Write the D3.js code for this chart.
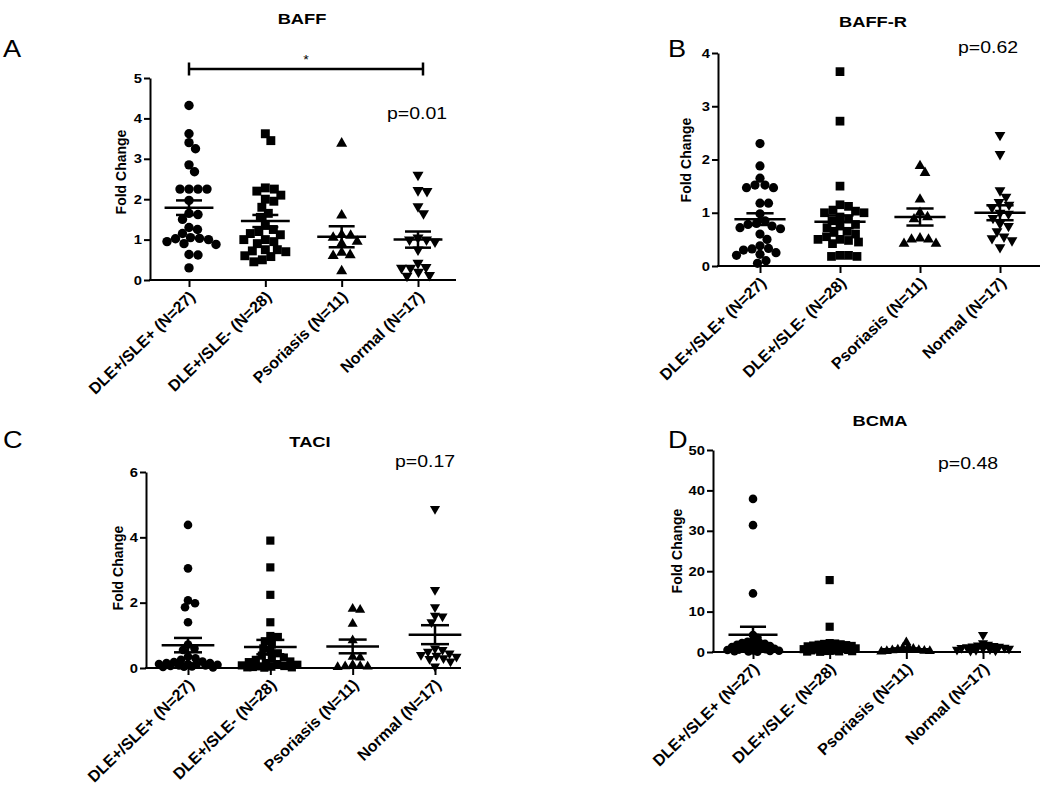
<!DOCTYPE html>
<html><head><meta charset="utf-8">
<script src="https://cdn.jsdelivr.net/npm/d3@7"></script>
<style>
body{margin:0;background:#fff}
svg{display:block}
text{font-family:"Liberation Sans",Arial,Helvetica,sans-serif;fill:#000}
</style>
</head><body>
<svg id="chart" width="1050" height="790"></svg>
<script>
// ---------------- data ----------------
const categories = ["DLE+/SLE+ (N=27)", "DLE+/SLE- (N=28)", "Psoriasis (N=11)", "Normal (N=17)"];
const panelLetters = ["A", "B", "C", "D"];
const panelTitles = ["BAFF", "BAFF-R", "TACI", "BCMA"];
const pValues = ["p=0.01", "p=0.62", "p=0.17", "p=0.48"];

const baffTicks = [0, 1, 2, 3, 4, 5];
const baffrTicks = [0, 1, 2, 3, 4];
const taciTicks = [0, 2, 4, 6];
const bcmaTicks = [0, 10, 20, 30, 40, 50];

const baffValues = [
  [4.32, 3.62, 3.40, 3.25, 2.85, 2.68, 2.25, 2.25, 2.25, 2.25, 1.97, 1.65, 1.62, 1.50, 1.30, 1.25, 1.15, 1.05, 1.03, 1.02, 1.00, 0.95, 0.90, 0.88, 0.63, 0.62, 0.30],
  [3.62, 3.45, 2.28, 2.25, 2.20, 2.10, 2.00, 1.95, 1.80, 1.65, 1.55, 1.35, 1.25, 1.20, 1.15, 1.12, 1.00, 1.00, 0.95, 0.90, 0.75, 0.75, 0.72, 0.70, 0.60, 0.58, 0.50, 0.45],
  [3.38, 1.60, 1.12, 1.10, 1.05, 0.95, 0.90, 0.68, 0.62, 0.60, 0.22],
  [2.60, 2.22, 2.20, 1.82, 1.65, 1.05, 1.00, 1.00, 0.95, 0.75, 0.42, 0.32, 0.30, 0.30, 0.20, 0.12, 0.10]
];
const baffMeans = [1.79, 1.46, 1.07, 1.00];
const baffSems = [0.18, 0.15, 0.26, 0.20];

const baffrValues = [
  [2.30, 1.88, 1.65, 1.52, 1.52, 1.47, 1.47, 1.18, 1.18, 0.98, 0.85, 0.80, 0.78, 0.75, 0.72, 0.70, 0.60, 0.50, 0.38, 0.33, 0.32, 0.30, 0.25, 0.22, 0.20, 0.10, 0.05],
  [3.65, 2.72, 1.50, 1.15, 1.12, 1.05, 1.03, 1.00, 1.00, 0.92, 0.88, 0.85, 0.78, 0.75, 0.72, 0.65, 0.63, 0.60, 0.55, 0.50, 0.50, 0.48, 0.45, 0.42, 0.20, 0.18, 0.18, 0.20],
  [1.88, 1.75, 1.25, 1.00, 0.92, 0.88, 0.52, 0.50, 0.50, 0.42, 0.42],
  [2.46, 2.10, 1.42, 1.30, 1.20, 1.15, 1.10, 1.00, 0.98, 0.90, 0.80, 0.75, 0.65, 0.55, 0.52, 0.48, 0.35]
];
const baffrMeans = [0.88, 0.83, 0.92, 1.00];
const baffrSems = [0.11, 0.12, 0.16, 0.14];

const taciValues = [
  [4.38, 3.05, 2.07, 1.98, 1.86, 1.40, 0.72, 0.60, 0.55, 0.35, 0.30, 0.25, 0.20, 0.18, 0.15, 0.15, 0.12, 0.12, 0.10, 0.10, 0.08, 0.08, 0.06, 0.05, 0.04, 0.03, 0.02],
  [3.90, 3.08, 2.24, 1.40, 0.98, 0.95, 0.82, 0.72, 0.60, 0.50, 0.45, 0.38, 0.32, 0.28, 0.25, 0.20, 0.18, 0.15, 0.12, 0.10, 0.08, 0.06, 0.05, 0.04, 0.03, 0.02, 0.02, 0.01],
  [1.81, 1.78, 1.35, 0.85, 0.34, 0.32, 0.10, 0.06, 0.05, 0.04, 0.03],
  [4.87, 2.39, 1.86, 1.60, 1.58, 1.40, 0.50, 0.45, 0.60, 0.55, 0.40, 0.38, 0.35, 0.30, 0.28, 0.20, 0.05]
];
const taciMeans = [0.70, 0.64, 0.66, 1.02];
const taciSems = [0.22, 0.22, 0.21, 0.29];

const bcmaValues = [
  [37.9, 31.4, 14.5, 4.2, 3.5, 2.8, 2.5, 2.3, 2.2, 2.0, 1.8, 1.6, 1.5, 1.3, 1.2, 1.0, 0.9, 0.8, 0.7, 0.6, 0.5, 0.4, 0.3, 0.25, 0.2, 0.15, 0.1],
  [17.8, 6.25, 2.2, 2.1, 2.0, 1.9, 1.8, 1.7, 1.6, 1.5, 1.4, 1.3, 1.2, 1.1, 1.0, 0.9, 0.8, 0.7, 0.6, 0.5, 0.4, 0.35, 0.3, 0.25, 0.2, 0.15, 0.1, 0.05],
  [2.4, 1.2, 1.0, 0.8, 0.6, 0.5, 0.4, 0.3, 0.25, 0.2, 0.1],
  [4.2, 2.2, 1.8, 1.6, 1.5, 1.4, 1.3, 1.2, 1.1, 1.0, 0.9, 0.8, 0.7, 0.6, 0.5, 0.4, 0.3]
];
const bcmaMeans = [4.3, 1.8, 0.7, 1.3];
const bcmaSems = [1.95, 0.65, 0.2, 0.3];

// ---------------- layout ----------------
const panels = [
  {values: baffValues, means: baffMeans, sems: baffSems, ticks: baffTicks,
   ax0: 150, ax1: 456, y0: 280, yTop: 78, c0: 189, c1: 418, r: 4.7, maxHalf: 30, coll: 0.92,
   letter: [3, 57], title: [302, 24], p: [387, 119], ylab: [121, 172]},
  {values: baffrValues, means: baffrMeans, sems: baffrSems, ticks: baffrTicks,
   ax0: 718, ax1: 1040, y0: 266, yTop: 53, c0: 760, c1: 1000, r: 4.6, maxHalf: 30, coll: 0.92,
   letter: [668, 57], title: [873, 27], p: [958, 53], ylab: [686, 160]},
  {values: taciValues, means: taciMeans, sems: taciSems, ticks: taciTicks,
   ax0: 146, ax1: 461, y0: 668, yTop: 472, c0: 188, c1: 435, r: 4.3, maxHalf: 30, coll: 0.85,
   letter: [3, 448], title: [310, 447], p: [395, 467], ylab: [118, 568]},
  {values: bcmaValues, means: bcmaMeans, sems: bcmaSems, ticks: bcmaTicks,
   ax0: 713, ax1: 1021, y0: 652, yTop: 450, c0: 753, c1: 983, r: 4.3, maxHalf: 26, coll: 0.6,
   letter: [668, 448], title: [880, 426], p: [938, 469], ylab: [677, 551]}
];
const shapes = [d3.symbolCircle, d3.symbolSquare, d3.symbolTriangle, d3.symbolTriangle];
const XS = 1.18; // horizontal stretch of the reference image's lettering

const svg = d3.select("#chart");

function swarm(vals, y, diam, maxHalf, coll) {
  const pts = vals.map(v => ({v, py: y(v), dx: 0}));
  const order = pts.slice().sort((a, b) => a.py - b.py);
  const placed = [];
  const minD = diam * coll;
  const cands = [0];
  for (let k = 0.5; k <= maxHalf; k += 0.5) { cands.push(k, -k); }
  for (const p of order) {
    let chosen = null, bestScore = -1, bestOff = 0;
    for (const off of cands) {
      let md = Infinity;
      for (const q of placed) {
        const d = Math.hypot(off - q.dx, p.py - q.py);
        if (d < md) md = d;
      }
      if (md >= minD) { chosen = off; break; }
      if (md > bestScore) { bestScore = md; bestOff = off; }
    }
    p.dx = chosen === null ? bestOff : chosen;
    placed.push(p);
  }
  return pts;
}

function hText(g, x, y, str, size, weight, anchor) {
  return g.append("text")
    .attr("transform", `translate(${x},${y}) scale(${XS},1)`)
    .attr("text-anchor", anchor || "start")
    .style("font-size", size + "px")
    .style("font-weight", weight || "normal")
    .text(str);
}

panels.forEach((P, pi) => {
  const g = svg.append("g");
  const yMax = P.ticks[P.ticks.length - 1];
  const y = d3.scaleLinear().domain([0, yMax]).range([P.y0, P.yTop]);
  const x = d3.scalePoint().domain(categories).range([P.c0, P.c1]);
  const step = x.step();

  // y axis
  const yAxis = d3.axisLeft(y).tickValues(P.ticks).tickFormat(d3.format("d"))
    .tickSize(6).tickPadding(3).tickSizeOuter(0);
  const ya = g.append("g").attr("transform", `translate(${P.ax0},0)`).call(yAxis);
  ya.select(".domain").attr("stroke", "#000").attr("stroke-width", 2);
  ya.selectAll(".tick line").attr("stroke", "#000").attr("stroke-width", 2);
  ya.selectAll(".tick text")
    .attr("transform", `scale(${XS},1)`).attr("x", -8 / XS)
    .style("font-size", "12.5px").style("font-weight", "bold")
    .style("font-family", '"Liberation Sans",Arial,sans-serif').attr("fill", "#000");

  // x axis
  const xa = g.append("g").attr("transform", `translate(0,${P.y0})`);
  xa.append("line").attr("x1", P.ax0 - 1).attr("x2", P.ax1).attr("y1", 0).attr("y2", 0)
    .attr("stroke", "#000").attr("stroke-width", 2);
  const xAxis = d3.axisBottom(x).tickSize(7).tickSizeOuter(0).tickFormat("");
  const xg = xa.append("g").call(xAxis);
  xg.select(".domain").remove();
  xg.selectAll(".tick line").attr("stroke", "#000").attr("stroke-width", 2);
  categories.forEach(c => {
    g.append("text")
      .attr("transform", `translate(${x(c) + 7},${P.y0 + 18}) rotate(-44)`)
      .attr("text-anchor", "end")
      .style("font-size", "16px").style("font-weight", "bold")
      .text(c);
  });

  // y label
  g.append("text")
    .attr("transform", `translate(${P.ylab[0]},${P.ylab[1]}) rotate(-90)`)
    .attr("text-anchor", "middle").attr("dy", "0.35em")
    .style("font-size", "14px").style("font-weight", "bold")
    .text("Fold Change");

  // points
  P.values.forEach((vals, ci) => {
    const cx = x(categories[ci]);
    const diam = P.r * 2;
    const pts = swarm(vals, y, diam, P.maxHalf, P.coll);
    const sym = shapes[ci];
    let size;
    if (ci === 0) size = Math.PI * P.r * P.r;
    else if (ci === 1) size = Math.pow(P.r * 1.9, 2);
    else size = Math.sqrt(3) / 4 * Math.pow(P.r * 2.35, 2);
    const path = d3.symbol().type(sym).size(size)();
    g.selectAll(null).data(pts).enter().append("path")
      .attr("d", path)
      .attr("fill", "#000")
      .attr("transform", d => `translate(${cx + d.dx},${d.py})` + (ci === 3 ? " rotate(180)" : ""));

    // mean and SEM
    const m = P.means[ci], s = P.sems[ci];
    const mw = step * 0.32, cw = step * 0.17;
    g.append("line").attr("x1", cx - mw).attr("x2", cx + mw).attr("y1", y(m)).attr("y2", y(m))
      .attr("stroke", "#000").attr("stroke-width", 2.5);
    g.append("line").attr("x1", cx).attr("x2", cx).attr("y1", y(m - s)).attr("y2", y(m + s))
      .attr("stroke", "#000").attr("stroke-width", 2.5);
    [m - s, m + s].forEach(v => {
      g.append("line").attr("x1", cx - cw).attr("x2", cx + cw).attr("y1", y(v)).attr("y2", y(v))
        .attr("stroke", "#000").attr("stroke-width", 2.5);
    });
  });

  // title, letter, p-value
  hText(g, P.title[0], P.title[1], panelTitles[pi], 15.5, "bold", "middle");
  hText(g, P.letter[0], P.letter[1], panelLetters[pi], 23, "normal", "start");
  hText(g, P.p[0], P.p[1], pValues[pi], 16.5, "normal", "start");

  // significance bracket (panel A)
  if (pi === 0) {
    const by = y(yMax) - 9;
    const bx0 = x(categories[0]), bx1 = x(categories[3]) + 5;
    g.append("line").attr("x1", bx0).attr("x2", bx1).attr("y1", by).attr("y2", by)
      .attr("stroke", "#000").attr("stroke-width", 2.5);
    [bx0, bx1].forEach(bx => g.append("line").attr("x1", bx).attr("x2", bx)
      .attr("y1", by - 6.5).attr("y2", by + 6.5).attr("stroke", "#000").attr("stroke-width", 2.5));
    hText(g, (bx0 + bx1) / 2, by - 5, "*", 12, "normal", "middle");
  }
});
</script>
</body></html>
